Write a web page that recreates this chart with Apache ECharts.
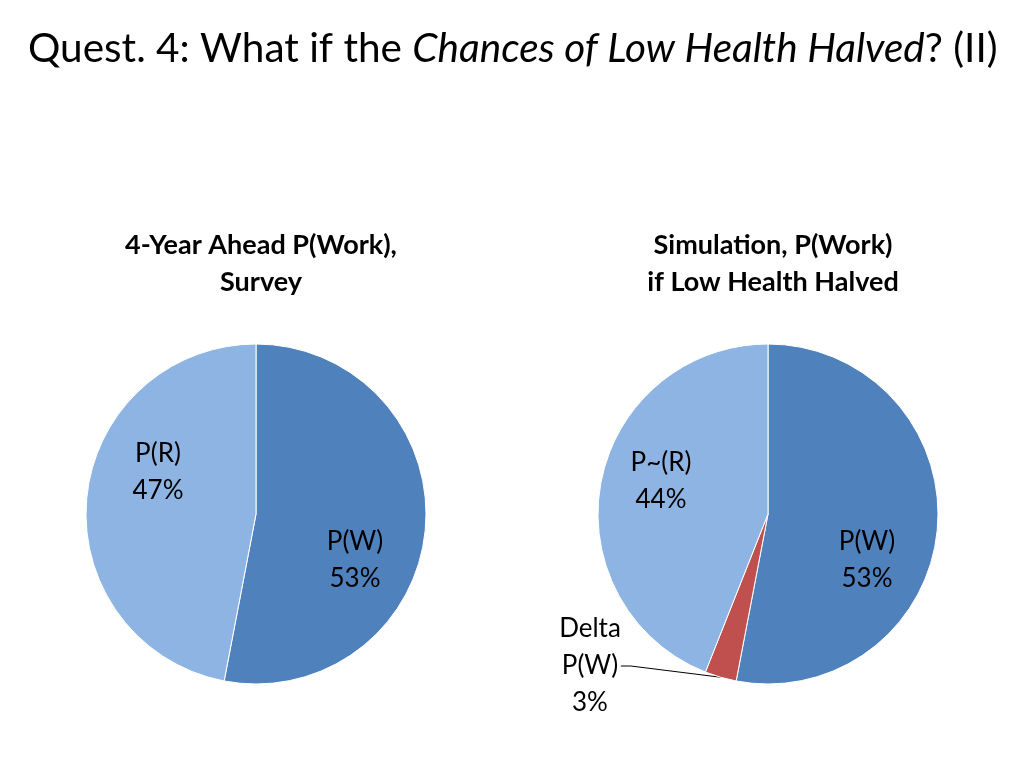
<!DOCTYPE html>
<html>
<head>
<meta charset="utf-8">
<script src="https://cdn.jsdelivr.net/npm/echarts@6/dist/echarts.min.js"></script>
<style>
html,body{margin:0;padding:0;background:#fff;}
#chart{width:1024px;height:768px;}
</style>
</head>
<body>
<div id="chart"></div>
<script>
// Data
var surveyNames = ['P(W)', 'P(R)'];
var surveyValues = [53, 47];
var simNames = ['P(W)', 'Delta\nP(W)', 'P~(R)'];
var simValues = [53, 3, 44];
var surveyColors = ['#4F81BD', '#8EB4E3'];
var simColors = ['#4F81BD', '#C0504D', '#8EB4E3'];

var FONT = 'Lato, "Open Sans", sans-serif';

function build(names, values, colors) {
  return names.map(function (n, i) {
    return { name: n, value: values[i], itemStyle: { color: colors[i] } };
  });
}

// label anchor positions (layout only)
var surveyLabelPos = [[355, 560], [158, 472]];
var simLabelPos = [[867, 560], [590, 666], [661, 481]];

var chart = echarts.init(document.getElementById('chart'));
var labelStyle = {
  formatter: function (p) { return p.name + '\n' + p.value + '%'; },
  fontFamily: FONT,
  fontSize: 26,
  lineHeight: 37,
  color: '#000',
  align: 'center'
};

chart.setOption({
  backgroundColor: '#fff',
  animation: false,
  title: [
    {
      text: 'Quest. 4: What if the {i|Chances of Low Health Halved}? (II)',
      left: 23, top: 23,
      textStyle: {
        fontFamily: FONT, fontSize: 40.5, fontWeight: 'normal', color: '#000',
        rich: { i: { fontFamily: FONT, fontSize: 40.5, fontStyle: 'italic', color: '#000' } }
      }
    },
    {
      text: '4-Year Ahead P(Work),\nSurvey',
      left: 256, top: 222, textAlign: 'center',
      textStyle: { fontFamily: FONT, fontSize: 27, fontWeight: 'bold', lineHeight: 37, color: '#000' }
    },
    {
      text: 'Simulation, P(Work)\nif Low Health Halved',
      left: 768, top: 222, textAlign: 'center',
      textStyle: { fontFamily: FONT, fontSize: 27, fontWeight: 'bold', lineHeight: 37, color: '#000' }
    }
  ],
  series: [
    {
      type: 'pie',
      center: [256, 514],
      radius: 170,
      startAngle: 90,
      clockwise: true,
      data: build(surveyNames, surveyValues, surveyColors),
      itemStyle: { borderColor: '#fff', borderWidth: 1 },
      label: Object.assign({ position: 'inside' }, labelStyle),
      labelLine: { show: false },
      labelLayout: function (p) {
        var pos = surveyLabelPos[p.dataIndex];
        return { x: pos[0], y: pos[1], align: 'center', verticalAlign: 'middle' };
      },
      emphasis: { disabled: true }
    },
    {
      type: 'pie',
      center: [768, 514],
      radius: 170,
      startAngle: 90,
      clockwise: true,
      data: build(simNames, simValues, simColors).map(function (d, i) {
        if (i === 1) {
          d.label = { position: 'outside' };
          d.labelLine = { show: true, length: 10, length2: 10, lineStyle: { color: '#000', width: 1 } };
        }
        return d;
      }),
      itemStyle: { borderColor: '#fff', borderWidth: 1 },
      label: Object.assign({ position: 'inside' }, labelStyle),
      labelLine: { show: false },
      labelLayout: function (p) {
        var pos = simLabelPos[p.dataIndex];
        return { x: pos[0], y: pos[1], align: 'center', verticalAlign: 'middle' };
      },
      emphasis: { disabled: true }
    }
  ]
});
</script>
</body>
</html>
